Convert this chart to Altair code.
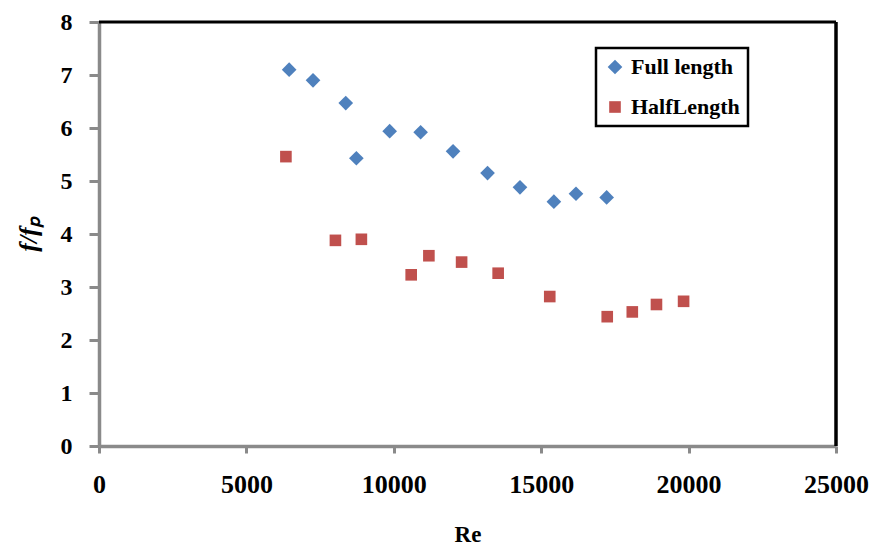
import altair as alt
import pandas as pd

# Friction factor ratio vs Reynolds number for the two insert lengths
series_names = ["Full length", "HalfLength"]

re_full = [6450, 7260, 8370, 8730, 9860, 10910, 12010, 13180, 14280, 15430, 16180, 17220]
f_full = [7.10, 6.90, 6.47, 5.43, 5.94, 5.92, 5.56, 5.15, 4.88, 4.61, 4.76, 4.69]

re_half = [6340, 8020, 8900, 10590, 11190, 12300, 13540, 15290, 17240, 18090, 18910, 19830]
f_half = [5.46, 3.88, 3.90, 3.23, 3.59, 3.47, 3.26, 2.82, 2.44, 2.53, 2.67, 2.73]

x_ticks = [0, 5000, 10000, 15000, 20000, 25000]
y_ticks = [0, 1, 2, 3, 4, 5, 6, 7, 8]

df = pd.DataFrame(
    {
        "Re": re_full + re_half,
        "f": f_full + f_half,
        "series": [series_names[0]] * len(re_full) + [series_names[1]] * len(re_half),
    }
)

FONT = "Liberation Serif"
W, H = 737, 424
AXIS_GREY = "#8a8a8a"

points = (
    alt.Chart(df)
    .mark_point(filled=True, opacity=1, strokeWidth=0)
    .encode(
        x=alt.X(
            "Re:Q",
            scale=alt.Scale(domain=[0, 25000], nice=False, zero=True),
            axis=alt.Axis(
                values=x_ticks,
                format="d",
                title="Re",
                grid=False,
                domainColor=AXIS_GREY,
                domainWidth=3.5,
                tickColor=AXIS_GREY,
                tickWidth=3,
                tickSize=7,
                labelFont=FONT,
                labelFontWeight="bold",
                labelFontSize=26,
                labelColor="black",
                labelPadding=18,
                labelFlush=False,
                titleFont=FONT,
                titleFontWeight="bold",
                titleFontSize=23,
                titleColor="black",
                titleX=W / 2,
                titleY=95,
                titleAlign="center",
                titleBaseline="alphabetic",
            ),
        ),
        y=alt.Y(
            "f:Q",
            scale=alt.Scale(domain=[0, 8], nice=False, zero=True),
            axis=alt.Axis(
                values=y_ticks,
                title="f/fₚ",
                grid=False,
                domainColor=AXIS_GREY,
                domainWidth=3.5,
                tickColor=AXIS_GREY,
                tickWidth=3,
                tickSize=10,
                labelFont=FONT,
                labelFontWeight="bold",
                labelFontSize=24,
                labelColor="black",
                labelPadding=17,
                labelFlush=False,
                titleFont=FONT,
                titleFontWeight="bold",
                titleFontStyle="italic",
                titleFontSize=26,
                titleColor="black",
                titleAngle=270,
                titleX=-71,
                titleY=H / 2,
                titleAlign="center",
                titleBaseline="middle",
            ),
        ),
        color=alt.Color(
            "series:N",
            scale=alt.Scale(domain=series_names, range=["#4F81BD", "#C0504D"]),
            legend=alt.Legend(
                title=None,
                orient="none",
                legendX=497,
                legendY=26,
                direction="vertical",
                strokeColor="black",
                fillColor="white",
                padding=8,
                rowPadding=18,
                labelFont=FONT,
                labelFontWeight="bold",
                labelFontSize=22,
                labelColor="black",
                labelOffset=5,
                symbolSize=190,
                symbolStrokeWidth=0,
                symbolOpacity=1,
            ),
        ),
        shape=alt.Shape(
            "series:N",
            scale=alt.Scale(domain=series_names, range=["diamond", "square"]),
        ),
        size=alt.Size(
            "series:N",
            scale=alt.Scale(domain=series_names, range=[215, 135]),
            legend=None,
        ),
    )
)

# Black frame along the top and right of the plot area
frame = alt.Data(values=[{}])
top_edge = alt.Chart(frame).mark_rule(color="black", strokeWidth=3).encode(
    x=alt.value(0), x2=alt.value(W), y=alt.value(0)
)
right_edge = alt.Chart(frame).mark_rule(color="black", strokeWidth=3.5).encode(
    x=alt.value(W), y=alt.value(0), y2=alt.value(H)
)

chart = (
    alt.layer(points, top_edge, right_edge)
    .properties(
        width=W,
        height=H,
        autosize=alt.AutoSizeParams(type="none"),
        padding={"left": 99, "top": 22, "right": 38, "bottom": 100},
        background="white",
    )
    .configure_view(stroke=None)
    .configure_legend(strokeWidth=2.5)
)

chart.save("out.html", embed_options={"renderer": "svg", "actions": False})
